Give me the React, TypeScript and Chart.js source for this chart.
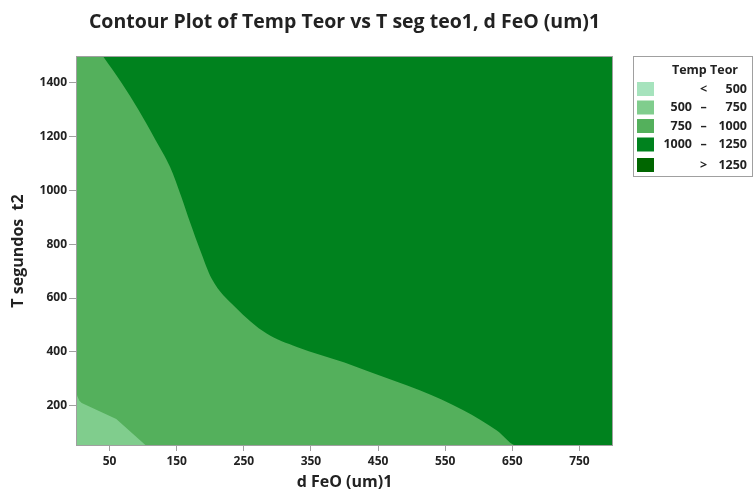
import React, { useEffect, useRef } from "react";
import { Chart, registerables } from "chart.js";

Chart.register(...registerables);

// ---- data ----
const titleText = "Contour Plot of Temp Teor vs T seg teo1, d FeO (um)1";
const xTitle = "d FeO (um)1";
const yTitle = "T segundos  t2";
const xTicks = [50, 150, 250, 350, 450, 550, 650, 750];
const yTicks = [200, 400, 600, 800, 1000, 1200, 1400];
const xRange = [0, 800];
const yRange = [50, 1500];

// contour 1000 (boundary between 750–1000 and 1000–1250)
const c1000X = [40, 68, 93, 118, 140, 157, 170, 185, 202, 237, 284, 329, 400, 438, 512, 577, 627, 658, 800];
const c1000Y = [1500, 1400, 1300, 1190, 1088, 976, 881, 778, 673, 567, 468, 418, 360, 325, 257, 183, 108, 50, 50];
// contour 750 (boundary between 500–750 and 750–1000)
const c750X = [0, 2, 5, 8.5, 60, 105];
const c750Y = [257, 235, 218, 210, 150, 50];

const legendTitle = "Temp Teor";
const legendLow = ["", "500", "750", "1000", ""];
const legendSym = ["<", "–", "–", "–", ">"];
const legendHigh = ["500", "750", "1000", "1250", "1250"];
const legendColors = ["#a6e3bd", "#80cd8d", "#54b05c", "#00821e", "#006600"];

const FONT = '"Open Sans", "Noto Sans", sans-serif';

const overlay = {
  id: "overlay",
  afterDraw(chart: any) {
    const ctx = chart.ctx as CanvasRenderingContext2D;
    const a = chart.chartArea;
    ctx.save();
    ctx.strokeStyle = "#a0a0a0";
    ctx.lineWidth = 1;
    ctx.strokeRect(a.left + 0.5, a.top + 0.5, a.right - a.left - 1, a.bottom - a.top - 1);

    ctx.fillStyle = "#222";
    ctx.textAlign = "center";
    ctx.textBaseline = "middle";
    ctx.font = `bold 19.5px ${FONT}`;
    ctx.fillText(titleText, (a.left + a.right) / 2, 22);

    ctx.font = `bold 16px ${FONT}`;
    ctx.fillText(xTitle, (a.left + a.right) / 2, 482);
    ctx.save();
    ctx.translate(18, (a.top + a.bottom) / 2);
    ctx.rotate(-Math.PI / 2);
    ctx.fillText(yTitle, 0, 0);
    ctx.restore();

    // legend
    const bx = 633, by = 56, bw = 119, bh = 120;
    ctx.strokeStyle = "#a0a0a0";
    ctx.strokeRect(bx + 0.5, by + 0.5, bw, bh);
    ctx.font = `bold 12.5px ${FONT}`;
    ctx.fillText(legendTitle, 705, 70);
    const rows = [89, 107.5, 126, 144.5, 165];
    for (let i = 0; i < rows.length; i++) {
      const cy = rows[i];
      ctx.fillStyle = legendColors[i];
      ctx.fillRect(637, cy - 7, 17, 14);
      ctx.fillStyle = "#222";
      ctx.textAlign = "right";
      if (legendLow[i]) ctx.fillText(legendLow[i], 692, cy);
      ctx.fillText(legendHigh[i], 747, cy);
      ctx.textAlign = "center";
      ctx.fillText(legendSym[i], 703.5, cy);
    }
    ctx.restore();
  },
};

export default function App() {
  const ref = useRef<HTMLCanvasElement>(null);
  useEffect(() => {
    document.body.style.margin = "0";
    const toPts = (xs: number[], ys: number[]) => xs.map((x, i) => ({ x, y: ys[i] }));
    const chart = new Chart(ref.current as HTMLCanvasElement, {
      type: "scatter",
      data: {
        datasets: [
          {
            data: toPts(xRange, [yRange[1], yRange[1]]),
            showLine: true,
            fill: "start",
            backgroundColor: legendColors[2],
            borderColor: "transparent",
            pointRadius: 0,
            order: 3,
          } as any,
          {
            data: toPts(c1000X, c1000Y),
            showLine: true,
            fill: "end",
            backgroundColor: legendColors[3],
            borderColor: "transparent",
            pointRadius: 0,
            cubicInterpolationMode: "monotone",
            order: 1,
          } as any,
          {
            data: toPts(c750X, c750Y),
            showLine: true,
            fill: "start",
            backgroundColor: legendColors[1],
            borderColor: "transparent",
            pointRadius: 0,
            order: 1,
          } as any,
        ],
      },
      options: {
        animation: false,
        responsive: false,
        maintainAspectRatio: false,
        layout: { padding: { left: 0, top: 56, right: 140, bottom: 0 } },
        plugins: { legend: { display: false }, tooltip: { enabled: false }, title: { display: false } },
        events: [],
        scales: {
          x: {
            type: "linear",
            min: xRange[0],
            max: xRange[1],
            afterBuildTicks: (s: any) => {
              s.ticks = xTicks.map((v) => ({ value: v }));
            },
            afterFit: (s: any) => {
              s.height = 51;
              s.paddingLeft = 0;
              s.paddingRight = 0;
            },
            grid: { display: true, drawOnChartArea: false, drawTicks: true, tickLength: 5, color: "#a0a0a0" },
            border: { display: false },
            ticks: {
              font: { family: FONT, size: 12, weight: "bold" },
              color: "#222",
              padding: 3,
              maxRotation: 0,
              autoSkip: false,
              callback: (v: any) => String(v),
            },
          },
          y: {
            type: "linear",
            min: yRange[0],
            max: yRange[1],
            afterBuildTicks: (s: any) => {
              s.ticks = yTicks.map((v) => ({ value: v }));
            },
            afterFit: (s: any) => {
              s.width = 76;
              s.paddingTop = 0;
              s.paddingBottom = 0;
            },
            grid: { display: true, drawOnChartArea: false, drawTicks: true, tickLength: 7, color: "#a0a0a0" },
            border: { display: false },
            ticks: {
              font: { family: FONT, size: 12, weight: "bold" },
              color: "#222",
              padding: 2,
              autoSkip: false,
              callback: (v: any) => String(v),
            },
          },
        },
      },
      plugins: [overlay],
    });
    return () => chart.destroy();
  }, []);
  return (
    <div style={{ width: 753, height: 497 }}>
      <canvas ref={ref} width={753} height={497} />
    </div>
  );
}
